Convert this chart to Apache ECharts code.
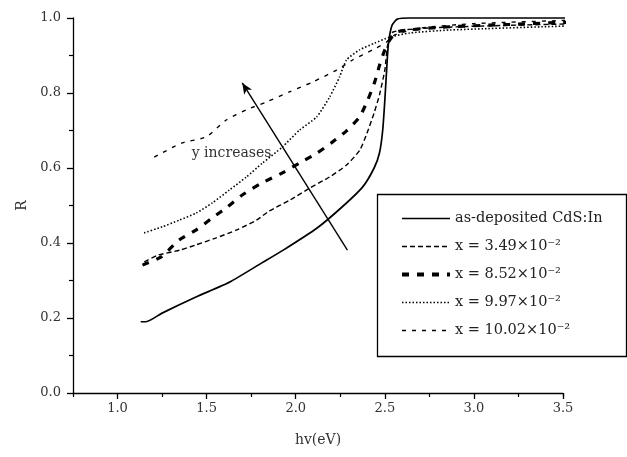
<!DOCTYPE html>
<html><head><meta charset="utf-8">
<script src="https://cdn.jsdelivr.net/npm/echarts@6/dist/echarts.min.js"></script>
<style>html,body{margin:0;padding:0;background:#fff}#c{width:627px;height:457px}</style>
</head><body><div id="c"></div>
<script>
// ---- data ----
const seriesNames = ['as-deposited CdS:In', 'x = 3.49×10⁻²', 'x = 8.52×10⁻²', 'x = 9.97×10⁻²', 'x = 10.02×10⁻²'];

const solidX = [1.13, 1.16, 1.25, 1.44, 1.63, 1.81, 1.93, 2.12, 2.26, 2.375, 2.44, 2.47, 2.488, 2.50, 2.51, 2.52, 2.54, 2.57, 2.64, 3.0, 3.61];
const solidR = [0.19, 0.19, 0.213, 0.256, 0.296, 0.347, 0.381, 0.44, 0.496, 0.549, 0.60, 0.64, 0.70, 0.78, 0.86, 0.93, 0.98, 0.997, 1.0, 1.0, 1.0];

const s349X = [1.15, 1.23, 1.35, 1.44, 1.55, 1.67, 1.78, 1.85, 1.97, 2.08, 2.19, 2.285, 2.36, 2.40, 2.44, 2.47, 2.50, 2.516, 2.544, 2.7, 3.0, 3.61];
const s349R = [0.35, 0.368, 0.381, 0.395, 0.413, 0.435, 0.461, 0.485, 0.515, 0.547, 0.576, 0.608, 0.648, 0.693, 0.747, 0.795, 0.861, 0.928, 0.962, 0.972, 0.978, 0.985];

const s852X = [1.14, 1.245, 1.346, 1.442, 1.532, 1.616, 1.70, 1.81, 1.925, 2.02, 2.12, 2.20, 2.285, 2.358, 2.404, 2.443, 2.471, 2.50, 2.527, 2.567, 2.8, 3.2, 3.61];
const s852R = [0.341, 0.363, 0.408, 0.435, 0.467, 0.496, 0.528, 0.56, 0.587, 0.613, 0.64, 0.667, 0.699, 0.736, 0.781, 0.829, 0.875, 0.915, 0.941, 0.963, 0.975, 0.983, 0.99];

const s997X = [1.149, 1.25, 1.346, 1.442, 1.532, 1.627, 1.723, 1.813, 1.925, 2.021, 2.117, 2.19, 2.246, 2.285, 2.358, 2.443, 2.527, 2.64, 2.865, 3.61];
const s997R = [0.427, 0.443, 0.461, 0.48, 0.507, 0.541, 0.576, 0.613, 0.656, 0.701, 0.736, 0.789, 0.843, 0.888, 0.915, 0.933, 0.949, 0.96, 0.968, 0.98];

const s1002X = [1.206, 1.363, 1.498, 1.61, 1.723, 1.835, 1.965, 2.094, 2.229, 2.319, 2.432, 2.51, 2.555, 2.696, 3.0, 3.61];
const s1002R = [0.629, 0.667, 0.683, 0.728, 0.755, 0.776, 0.803, 0.829, 0.861, 0.888, 0.915, 0.936, 0.955, 0.973, 0.985, 0.995];

const xMajorTicks = [1.0, 1.5, 2.0, 2.5, 3.0, 3.5];
const arrowFrom = [2.29, 0.381];
const arrowTo = [1.70, 0.827];
const annotText = 'y increases';
const annotPos = [1.64, 0.64];

// ---- chart ----
const pair = (xs, ys) => xs.map((x, i) => [x, ys[i]]);
const FONT = '"DejaVu Serif", "Liberation Serif", serif';
const styles = [
  { width: 1.7, type: 'solid' },
  { width: 1.4, type: [5, 3] },
  { width: 3.2, type: [7, 8] },
  { width: 1.6, type: [1.5, 2] },
  { width: 1.4, type: [4, 6] }
];
const datas = [pair(solidX, solidR), pair(s349X, s349R), pair(s852X, s852R), pair(s997X, s997R), pair(s1002X, s1002R)];

const series = datas.map((d, i) => ({
  name: seriesNames[i], type: 'line', data: d, xAxisIndex: 0,
  symbol: 'none', showSymbol: false, clip: false, smooth: 0.2,
  lineStyle: { color: '#000', width: styles[i].width, type: styles[i].type },
  itemStyle: { color: '#000' }
}));
series[0].markLine = {
  silent: true, symbol: ['none', 'arrow'], symbolSize: [7, 11],
  lineStyle: { color: '#000', width: 1.4, type: 'solid' },
  label: { show: false },
  data: [[{ coord: arrowFrom }, { coord: arrowTo }]]
};
series[1].markPoint = {
  silent: true, symbol: 'circle', symbolSize: 1,
  itemStyle: { color: 'rgba(0,0,0,0)' },
  label: { show: true, position: 'inside', formatter: annotText, fontFamily: FONT, fontSize: 14, color: '#333' },
  data: [{ coord: annotPos }]
};

const legendData = seriesNames.map((n, i) => ({
  name: n,
  lineStyle: { width: styles[i].width + (i === 2 ? 0.8 : 0), type: styles[i].type, color: '#000' }
}));

const chart = echarts.init(document.getElementById('c'), null, { renderer: 'canvas' });
chart.setOption({
  backgroundColor: '#fff',
  animation: false,
  grid: { left: 73, right: 64, top: 18, bottom: 64, containLabel: false },
  xAxis: [{
    type: 'value', min: 0.75, max: 3.5, position: 'bottom',
    name: 'hv(eV)', nameLocation: 'middle', nameGap: 40,
    nameTextStyle: { fontFamily: FONT, fontSize: 14, color: '#333' },
    axisLine: { show: true, lineStyle: { color: '#000', width: 1.3 } },
    axisTick: { show: true, length: 6, customValues: xMajorTicks, lineStyle: { color: '#000', width: 1.3 } },
    axisLabel: { customValues: xMajorTicks, margin: 9, fontFamily: FONT, fontSize: 13, color: '#333', formatter: v => v.toFixed(1) },
    splitLine: { show: false }
  }, {
    type: 'value', min: 0.75, max: 3.5, interval: 0.5, position: 'bottom',
    axisLine: { show: false },
    axisTick: { show: true, length: 4, lineStyle: { color: '#000', width: 1.2 } },
    axisLabel: { show: false }, splitLine: { show: false }
  }],
  yAxis: {
    type: 'value', min: 0, max: 1.0, interval: 0.2,
    name: 'R', nameLocation: 'middle', nameGap: 42,
    nameTextStyle: { fontFamily: FONT, fontSize: 14, color: '#333' },
    axisLine: { show: true, lineStyle: { color: '#000', width: 1.3 } },
    axisTick: { show: true, length: 6, lineStyle: { color: '#000', width: 1.3 } },
    minorTick: { show: true, splitNumber: 2, length: 4, lineStyle: { color: '#000', width: 1.2 } },
    axisLabel: { margin: 12, fontFamily: FONT, fontSize: 13, color: '#333', formatter: v => v.toFixed(1) },
    splitLine: { show: false }
  },
  legend: {
    show: true, orient: 'vertical', left: 400, top: 211,
    itemWidth: 48, itemHeight: 14, itemGap: 13, padding: 0,
    data: legendData,
    itemStyle: { opacity: 0 },
    textStyle: { fontFamily: FONT, fontSize: 14.5, color: '#222' }
  },
  graphic: [{
    type: 'rect', left: 375, top: 192, silent: true,
    shape: { width: 249, height: 162 },
    style: { fill: 'none', stroke: '#000', lineWidth: 1.3 }
  }],
  series: series
});
</script></body></html>
